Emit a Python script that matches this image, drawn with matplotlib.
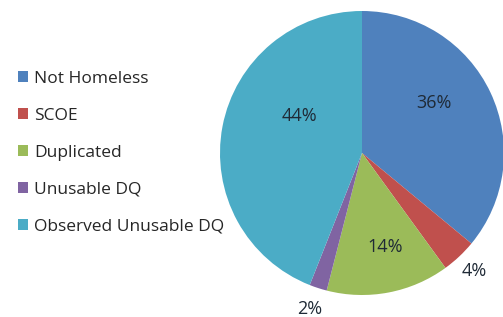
import matplotlib
matplotlib.use("Agg")
import matplotlib.pyplot as plt
from matplotlib.patches import Patch

categories = ["Not Homeless", "SCOE", "Duplicated", "Unusable DQ", "Observed Unusable DQ"]
values = [36, 4, 14, 2, 44]
colors = ["#4F81BD", "#C0504D", "#9BBB59", "#8064A2", "#4BACC6"]
label_pos = [(0.51, 0.35), (0.79, -0.83), (0.16, -0.66), (-0.37, -1.10), (-0.44, 0.26)]

plt.rcParams['font.family'] = ['Open Sans', 'DejaVu Sans']

W, H = 503, 317
fig = plt.figure(figsize=(W/100, H/100), dpi=100)
cx, cy, r = 362, 153, 142
ax = fig.add_axes([(cx - r)/W, (H - cy - r)/H, 2*r/W, 2*r/H])
wedges, _ = ax.pie(values, colors=colors, startangle=90, counterclock=False,
                   radius=1.0, wedgeprops=dict(linewidth=0))
ax.set_xlim(-1, 1)
ax.set_ylim(-1, 1)
ax.set_aspect('equal')
ax.axis('off')
total = sum(values)
for v, (x, y) in zip(values, label_pos):
    ax.text(x, y, f"{round(100*v/total)}%", ha='center', va='center',
            fontsize=13, color='#1f2a36', clip_on=False)

handles = [Patch(facecolor=c, edgecolor='none') for c in colors]
leg = fig.legend(handles, categories, loc='upper left', bbox_to_anchor=(18/W, 1 - 71/H),
                 frameon=False, fontsize=12.5, handlelength=0.6, handleheight=0.6,
                 handletextpad=0.35, labelspacing=1.2, borderpad=0, borderaxespad=0)
for t in leg.get_texts():
    t.set_color('#262626')

fig.savefig("out.png", dpi=100)
